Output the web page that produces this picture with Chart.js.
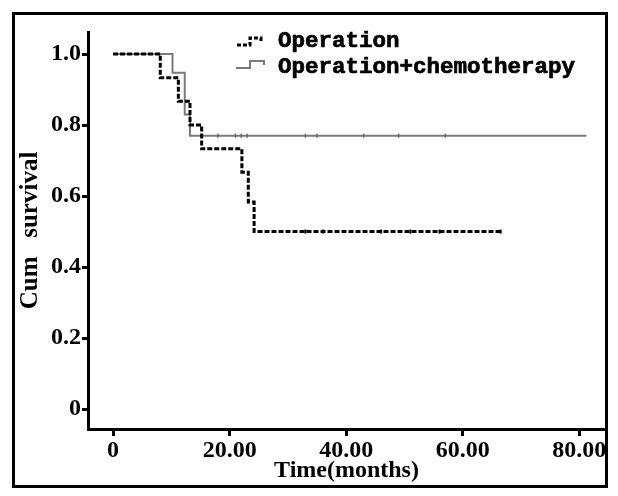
<!DOCTYPE html>
<html>
<head>
<meta charset="utf-8">
<script src="https://cdn.jsdelivr.net/npm/chart.js@4/dist/chart.umd.min.js"></script>
<style>
  html, body { margin: 0; padding: 0; background: #fff; }
  #wrap { width: 618px; height: 496px; }
</style>
</head>
<body>
<div id="wrap"><canvas id="km" width="618" height="496"></canvas></div>
<script>
// Kaplan-Meier steps (time in months, cumulative survival)
const opTimes = [0, 8.1, 11.2, 13.2, 15.2, 22.1, 23.2, 24.2, 66.5];
const opSurvival = [1.0, 0.933, 0.867, 0.8, 0.733, 0.667, 0.583, 0.5, 0.5];

const chemoTimes = [0, 10.2, 12.3, 13.2, 81.2];
const chemoSurvival = [1.0, 0.947, 0.83, 0.77, 0.77];

// censored marks on the flat parts
const opCensorTimes = [33, 36, 46, 51, 56, 66.5];
const chemoCensorTimes = [18, 21, 22, 23, 33, 35, 43, 49, 57];

const seriesLabels = ["Operation", "Operation+chemotherapy"];
const xTickValues = [0, 20, 40, 60, 80];
const xTickLabels = ["0", "20.00", "40.00", "60.00", "80.00"];
const yTickValues = [0, 0.2, 0.4, 0.6, 0.8, 1.0];
const yTickLabels = ["0", "0.2", "0.4", "0.6", "0.8", "1.0"];

const toPoints = (xs, ys) => xs.map((x, i) => ({ x: x, y: ys[i] }));

const serif = "'Liberation Serif', 'Times New Roman', serif";

// frame round the whole picture + the legend drawn inside the plot
const framePlugin = {
  id: "frame",
  afterDraw(chart) {
    const ctx = chart.ctx;
    ctx.save();
    ctx.strokeStyle = "#000";
    ctx.lineWidth = 3;
    ctx.strokeRect(13.5, 13.5, 593, 473);

    const ds = chart.data.datasets;
    ctx.font = "bold 22.5px 'Liberation Mono', 'Courier New', monospace";
    ctx.textBaseline = "middle";
    ctx.fillStyle = "#000";

    // Operation sample (dashed step)
    ctx.strokeStyle = ds[0].borderColor;
    ctx.lineWidth = 3;
    ctx.setLineDash([4, 2]);
    ctx.beginPath();
    ctx.moveTo(237, 45);
    ctx.lineTo(250, 45);
    ctx.lineTo(250, 38);
    ctx.lineTo(261, 38);
    ctx.lineTo(261, 42);
    ctx.stroke();
    ctx.setLineDash([]);
    ctx.lineWidth = 0.7;
    ctx.strokeStyle = "#000";
    ctx.fillText(ds[0].label, 278, 41);
    ctx.strokeText(ds[0].label, 278, 41);

    // Operation+chemotherapy sample (grey step)
    ctx.strokeStyle = ds[1].borderColor;
    ctx.lineWidth = 2;
    ctx.beginPath();
    ctx.moveTo(236, 68);
    ctx.lineTo(250, 68);
    ctx.lineTo(250, 61);
    ctx.lineTo(264, 61);
    ctx.lineTo(264, 65);
    ctx.stroke();
    ctx.lineWidth = 0.7;
    ctx.strokeStyle = "#000";
    ctx.fillText(ds[1].label, 278, 67);
    ctx.strokeText(ds[1].label, 278, 67);
    ctx.restore();
  }
};

new Chart(document.getElementById("km"), {
  type: "line",
  data: {
    datasets: [
      {
        label: seriesLabels[0],
        data: toPoints(opTimes, opSurvival),
        stepped: "before",
        borderColor: "#000",
        borderWidth: 3,
        borderDash: [5, 2],
        pointRadius: 0,
        fill: false,
        order: 1
      },
      {
        label: seriesLabels[1],
        data: toPoints(chemoTimes, chemoSurvival),
        stepped: "before",
        borderColor: "#7a7a7a",
        borderWidth: 2,
        pointRadius: 0,
        fill: false,
        order: 2
      },
      {
        label: "op-censored",
        data: opCensorTimes.map((t) => ({ x: t, y: 0.5 })),
        showLine: false,
        pointStyle: "line",
        rotation: 90,
        pointRadius: 2,
        borderColor: "#000",
        borderWidth: 2
      },
      {
        label: "chemo-censored",
        data: chemoCensorTimes.map((t) => ({ x: t, y: 0.77 })),
        showLine: false,
        pointStyle: "line",
        rotation: 90,
        pointRadius: 2,
        borderColor: "#666",
        borderWidth: 1.5
      }
    ]
  },
  options: {
    responsive: false,
    animation: false,
    layout: { padding: { left: 14, top: 32, right: 13, bottom: 10 } },
    plugins: {
      legend: { display: false },
      tooltip: { enabled: false }
    },
    scales: {
      x: {
        type: "linear",
        min: -4.3,
        max: 84.4,
        afterBuildTicks: (axis) => { axis.ticks = xTickValues.map((v) => ({ value: v })); },
        afterFit: (axis) => { axis.height = 57; },
        ticks: {
          color: "#000",
          padding: 0,
          maxRotation: 0,
          font: { family: serif, size: 24, weight: "bold" },
          callback: (v) => xTickLabels[xTickValues.indexOf(v)]
        },
        grid: { display: true, drawOnChartArea: false, drawTicks: true, tickLength: 7, color: "#000", lineWidth: 3 },
        border: { display: true, color: "#000", width: 3 },
        title: {
          display: true,
          text: "Time(months)",
          color: "#000",
          padding: { top: 0, bottom: 1 },
          font: { family: serif, size: 24, weight: "bold" }
        }
      },
      y: {
        type: "linear",
        min: -0.056,
        max: 1.062,
        afterBuildTicks: (axis) => { axis.ticks = yTickValues.map((v) => ({ value: v })); },
        afterFit: (axis) => { axis.width = 74; },
        ticks: {
          color: "#000",
          padding: 1,
          font: { family: serif, size: 24, weight: "bold" },
          callback: (v) => yTickLabels[yTickValues.indexOf(v)]
        },
        grid: { display: true, drawOnChartArea: false, drawTicks: true, tickLength: 6, color: "#000", lineWidth: 3 },
        border: { display: true, color: "#000", width: 3 },
        title: {
          display: true,
          text: "Cum   survival",
          color: "#000",
          padding: { top: 2, bottom: 0 },
          font: { family: serif, size: 25, weight: "bold" }
        }
      }
    }
  },
  plugins: [framePlugin]
});
</script>
</body>
</html>
